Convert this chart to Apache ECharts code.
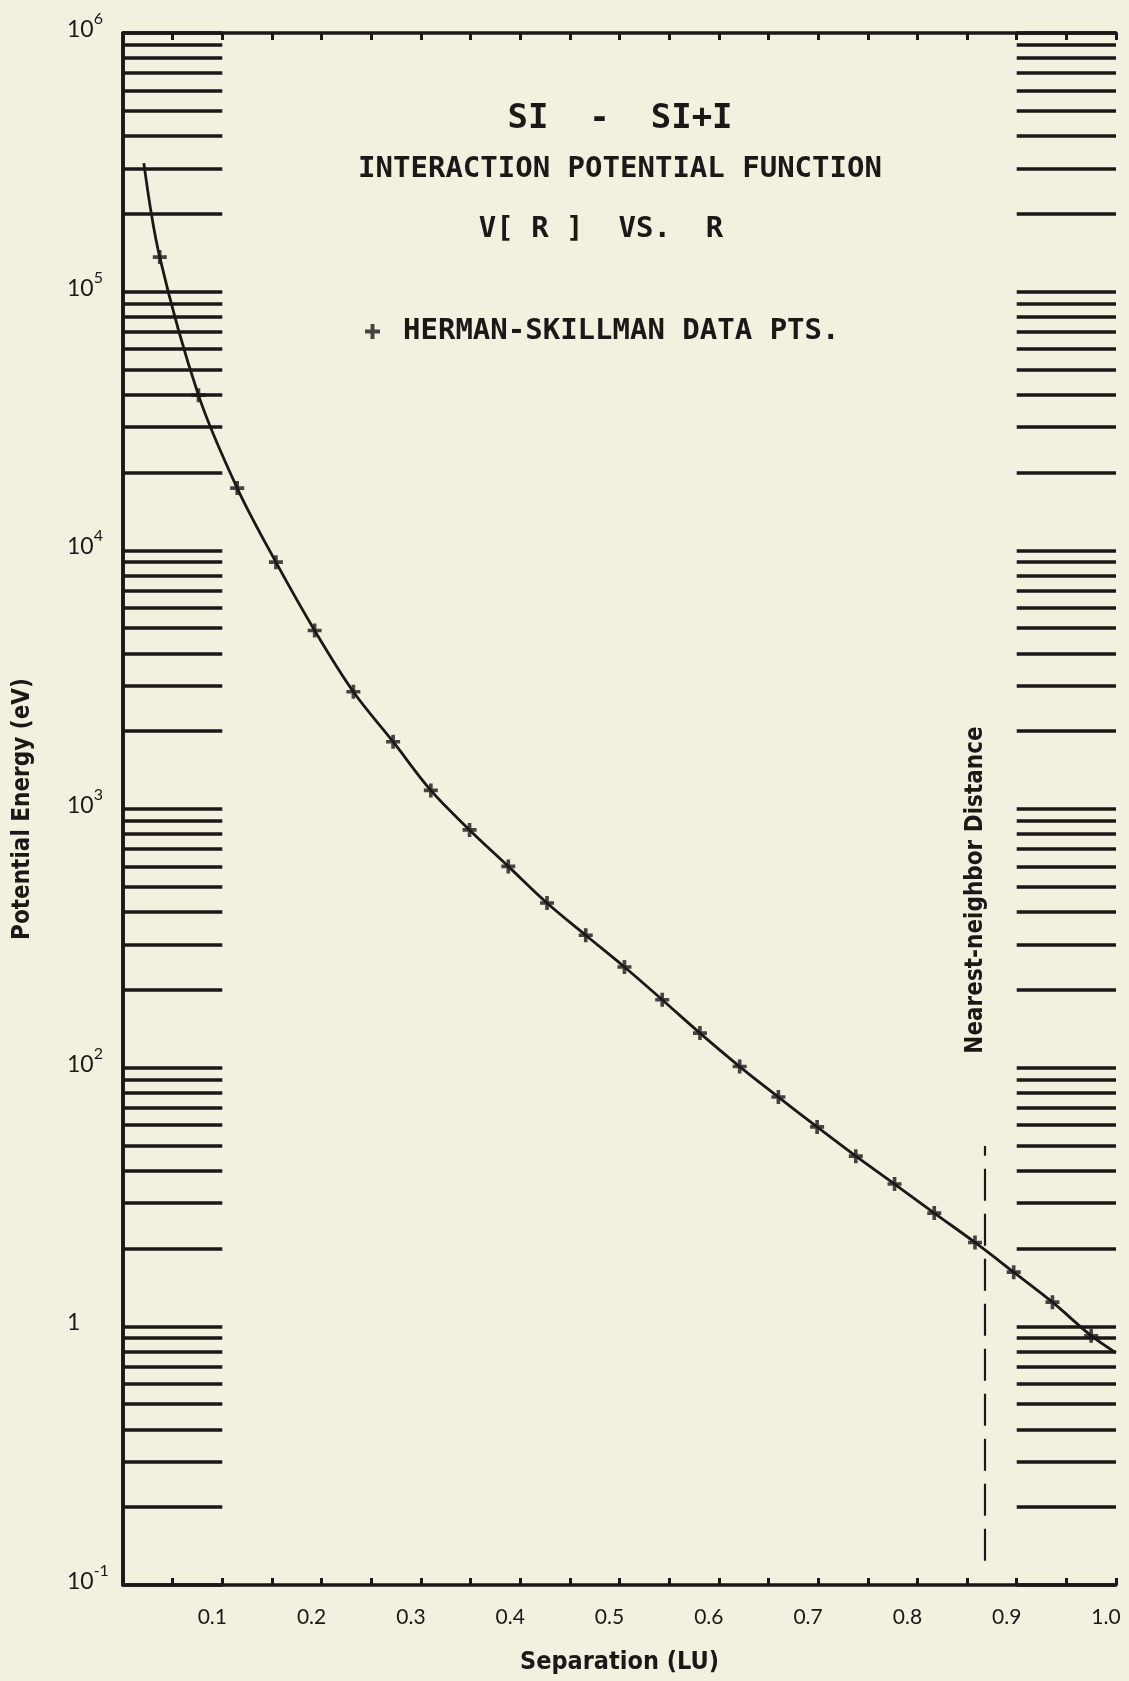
<!DOCTYPE html>
<html>
<head>
<meta charset="utf-8">
<script src="https://cdn.jsdelivr.net/npm/echarts@6/dist/echarts.min.js"></script>
<style>
html,body{margin:0;padding:0;background:#f3f0e0;}
#c{width:1129px;height:1681px;}
</style>
</head>
<body>
<div id="c"></div>
<script>
// ---- data ----
const sepR = [0.037,0.076,0.115,0.154,0.193,0.232,0.272,0.310,0.349,0.388,0.427,0.466,0.505,0.543,0.581,0.621,0.660,0.699,0.738,0.777,0.817,0.858,0.897,0.936,0.975];
const potV = [136000,39800,17400,9000,4900,2840,1820,1180,830,600,433,325,245,183,136,101,77,59,45.5,35.5,27.4,21.1,16.2,12.4,9.2];
const curveR = [0.021,0.037,0.076,0.115,0.154,0.193,0.232,0.272,0.310,0.349,0.388,0.427,0.466,0.505,0.543,0.581,0.621,0.660,0.699,0.738,0.777,0.817,0.858,0.897,0.936,0.975,1.0];
const curveV = [314000,136000,39800,17400,9000,4900,2840,1820,1180,830,600,433,325,245,183,136,101,77,59,45.5,35.5,27.4,21.1,16.2,12.4,9.2,7.9];
const xTickLabels = ['0.1','0.2','0.3','0.4','0.5','0.6','0.7','0.8','0.9','1.0'];
const yTickLabels = ['10^-1','1','10^2','10^3','10^4','10^5','10^6'];
const bandMantissas = [1,2,3,4,5,6,7,8,9];
const bandDecades = [0,1,2,3,4,5];
const leftBand = [0, 0.1];
const rightBand = [0.9, 1.0];
const nearestNeighborR = 0.868;
const nearestNeighborSpan = [1.24, 49.8];

const titleLines = ['SI  -  SI+I', 'INTERACTION POTENTIAL FUNCTION', 'V[ R ]  VS.  R'];
const legendText = 'HERMAN-SKILLMAN DATA PTS.';

// ---- styles ----
const ink = '#1d1718';
const mono = '"DejaVu Sans Mono", "Liberation Mono", monospace';
const narrow = '"Liberation Sans Narrow", "DejaVu Sans Condensed", "Liberation Sans", sans-serif';
const plusPath = 'path://M5,0h3.5v5h5v3.5h-5v5h-3.5v-5h-5v-3.5h5z';

const bandValues = [];
bandDecades.forEach(d => bandMantissas.forEach(m => bandValues.push(m * Math.pow(10, d))));
bandValues.push(1e6);

const bandLineData = [];
bandValues.forEach(v => {
  bandLineData.push([{coord: [leftBand[0], v]}, {coord: [leftBand[1], v]}]);
  bandLineData.push([{coord: [rightBand[0], v]}, {coord: [rightBand[1], v]}]);
});

const chart = echarts.init(document.getElementById('c'), null, {renderer: 'canvas'});

const option = {
  backgroundColor: '#f3f0e0',
  animation: false,
  grid: {left: 123, top: 33, width: 993, height: 1552, containLabel: false, outerBoundsMode: 'none'},
  legend: {
    show: true,
    left: 360,
    top: 312,
    itemWidth: 15,
    itemHeight: 15,
    data: [{name: legendText, icon: plusPath}],
    itemStyle: {color: ink},
    textStyle: {fontFamily: mono, fontWeight: 'bold', fontSize: 29, color: ink, padding: [0, 0, 0, 18]},
    selectedMode: false
  },
  xAxis: [
    {
      type: 'value', min: 0, max: 1, interval: 0.05, position: 'bottom',
      axisLine: {show: true, lineStyle: {color: ink, width: 3.5}},
      axisTick: {show: true, inside: true, length: 7, lineStyle: {color: ink, width: 3}},
      splitLine: {show: false},
      axisLabel: {
        show: true, margin: 22, padding: [0, 20, 0, 0],
        fontFamily: 'Lato, "Open Sans", sans-serif', fontSize: 21, color: ink,
        formatter: v => {
          const i = Math.round(v * 20);
          if (i === 0 || i % 2 !== 0) return '';
          return xTickLabels[i / 2 - 1];
        }
      },
      name: 'Separation (LU)', nameLocation: 'middle', nameGap: 65,
      nameTextStyle: {fontFamily: narrow, fontWeight: 'bold', fontSize: 25, color: ink}
    },
    {
      type: 'value', min: 0, max: 1, interval: 0.05, position: 'top',
      axisLine: {show: true, lineStyle: {color: ink, width: 3.5}},
      axisTick: {show: true, inside: true, length: 7, lineStyle: {color: ink, width: 3}},
      splitLine: {show: false},
      axisLabel: {show: false}
    }
  ],
  yAxis: [
    {
      type: 'log', logBase: 10, min: 1, max: 1e6, position: 'left',
      axisLine: {show: true, lineStyle: {color: ink, width: 3.5}},
      axisTick: {show: false},
      minorTick: {show: false},
      splitLine: {show: false},
      axisLabel: {
        show: true, align: 'left', margin: 56, verticalAlign: 'middle', padding: [0, 0, 14, 0],
        formatter: v => {
          const t = yTickLabels[Math.round(Math.log10(v))] || '';
          const parts = t.split('^');
          return parts.length > 1 ? '{b|' + parts[0] + '}{s|' + parts[1] + '}' : '{b|' + parts[0] + '}';
        },
        rich: {
          b: {fontFamily: 'Lato, "Open Sans", sans-serif', fontSize: 23, lineHeight: 30, color: ink, verticalAlign: 'bottom'},
          s: {fontFamily: 'Lato, "Open Sans", sans-serif', fontSize: 16, lineHeight: 16, color: ink, verticalAlign: 'top'}
        }
      },
      name: 'Potential Energy (eV)', nameLocation: 'middle', nameGap: 88,
      nameTextStyle: {fontFamily: narrow, fontWeight: 'bold', fontSize: 24, color: ink}
    },
    {
      type: 'log', logBase: 10, min: 1, max: 1e6, position: 'right',
      axisLine: {show: true, lineStyle: {color: ink, width: 3.5}},
      axisTick: {show: false},
      splitLine: {show: false},
      axisLabel: {show: false}
    }
  ],
  graphic: [
    {type: 'text', x: 620, y: 119, style: {text: titleLines[0], font: 'bold 34px ' + mono, fill: ink, align: 'center', verticalAlign: 'middle', textAlign: 'center', textVerticalAlign: 'middle'}},
    {type: 'text', x: 620, y: 169, style: {text: titleLines[1], font: 'bold 29px ' + mono, fill: ink, align: 'center', verticalAlign: 'middle', textAlign: 'center', textVerticalAlign: 'middle'}},
    {type: 'text', x: 601, y: 229, style: {text: titleLines[2], font: 'bold 29px ' + mono, fill: ink, align: 'center', verticalAlign: 'middle', textAlign: 'center', textVerticalAlign: 'middle'}},
    {type: 'text', x: 976, y: 890, rotation: Math.PI / 2, style: {text: 'Nearest-neighbor Distance', font: 'bold 24px ' + narrow, fill: ink, align: 'center', verticalAlign: 'middle', textAlign: 'center', textVerticalAlign: 'middle'}}
  ],
  series: [
    {
      type: 'line',
      name: 'fit',
      xAxisIndex: 0, yAxisIndex: 0,
      data: curveR.map((r, i) => [r, curveV[i]]),
      showSymbol: false,
      smooth: 0.35,
      lineStyle: {color: ink, width: 2.8},
      z: 3,
      silent: true,
      markLine: {
        silent: true,
        symbol: ['none', 'none'],
        label: {show: false},
        lineStyle: {color: ink, width: 3.6, type: 'solid'},
        data: bandLineData
      }
    },
    {
      type: 'scatter',
      name: legendText,
      xAxisIndex: 0, yAxisIndex: 0,
      data: sepR.map((r, i) => [r, potV[i]]),
      symbol: plusPath,
      symbolSize: 14,
      itemStyle: {color: ink},
      z: 4,
      markLine: {
        silent: true,
        symbol: ['none', 'none'],
        label: {show: false},
        lineStyle: {color: ink, width: 2.2, type: [32, 13]},
        data: [[{coord: [nearestNeighborR, nearestNeighborSpan[0]]}, {coord: [nearestNeighborR, nearestNeighborSpan[1]]}]]
      }
    }
  ]
};

chart.setOption(option);
</script>
</body>
</html>
